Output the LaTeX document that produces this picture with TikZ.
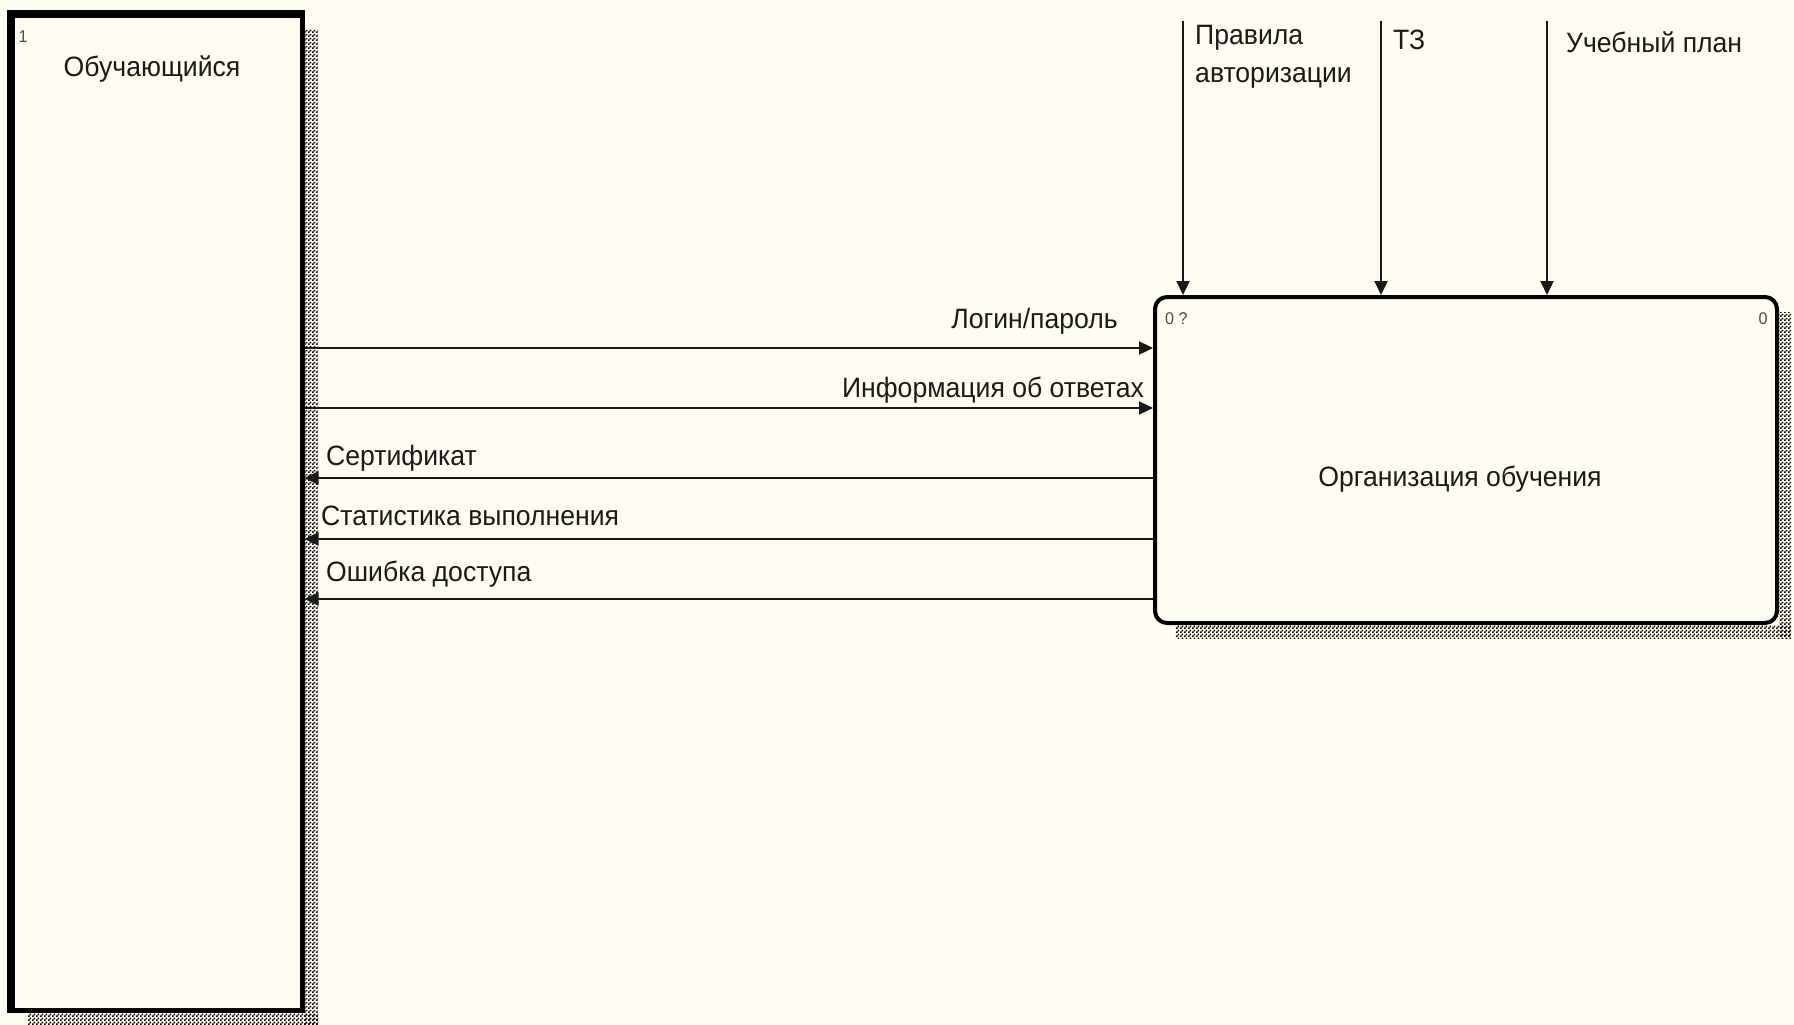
\documentclass[tikz,border=0pt]{standalone}
\usepackage{fontspec}
\setmainfont{Liberation Sans}[FakeStretch=0.95]
\usetikzlibrary{arrows.meta,patterns}
\definecolor{bg}{HTML}{FFFCF2}
\definecolor{ink}{HTML}{1A1A1A}
\definecolor{numgray}{HTML}{4A4A4A}
\pgfdeclarepatternformonly{idefshade}{\pgfqpoint{0pt}{0pt}}{\pgfqpoint{4pt}{4pt}}{\pgfqpoint{4pt}{4pt}}{%
  \pgfpathrectangle{\pgfqpoint{0pt}{0pt}}{\pgfqpoint{2pt}{2pt}}%
  \pgfpathrectangle{\pgfqpoint{2pt}{2pt}}{\pgfqpoint{2pt}{2pt}}%
  \pgfusepath{fill}}
\begin{document}
\begin{tikzpicture}[x=1pt,y=-1pt,
  shade/.style={pattern=idefshade, pattern color=black},
  lbl/.style={font=\fontsize{28}{33}\selectfont, text=ink, inner sep=0pt},
  num/.style={font=\fontsize{17}{19}\selectfont, text=numgray, inner sep=0pt},
  flow/.style={draw=ink, line width=2.3pt, -{Triangle[length=14pt,width=13pt]}},
  boxline/.style={draw=black, fill=bg, inner sep=0pt}]
\fill[bg] (0,0) rectangle (1794,1025);
\useasboundingbox (0,0) rectangle (1794,1025);
% shadows
\fill[shade] (304,30) rectangle (318,1025);
\fill[shade] (28,1013) rectangle (318,1025);
\fill[shade] (1779,312) rectangle (1791,638);
\fill[shade] (1175,625) rectangle (1791,638);
% boxes
\node[boxline, line width=5pt, minimum width=292.5pt, minimum height=998pt] (learner) at (155.75,511.5) {};
\fill[black] (7,10) rectangle (15,1013);
\fill[black] (7,10) rectangle (304,18);
\node[boxline, line width=4pt, rounded corners=12pt, minimum width=622pt, minimum height=326pt] (proc) at (1466,460) {};
% box texts
\node[num] (n1) at (23,37) {1};
\node[lbl] (tlearner) at (152,69) {Обучающийся};
\node[num, anchor=west] (n0q) at (1165,319) {0 ?};
\node[num] (n0) at (1763,319) {0};
\node[lbl] (tproc) at (1460,479) {Организация обучения};
% controls
\coordinate (c1) at (1183,21);
\coordinate (c2) at (1381,21);
\coordinate (c3) at (1547,21);
\draw[flow] (c1) -- (c1 |- proc.north);
\draw[flow] (c2) -- (c2 |- proc.north);
\draw[flow] (c3) -- (c3 |- proc.north);
\node[lbl, anchor=west] (lc1a) at (1195,38) {Правила};
\node[lbl, anchor=west] (lc1b) at (1195,78) {авторизации};
\node[lbl, anchor=west] (lc2) at (1393,40) {ТЗ};
\node[lbl, anchor=west] (lc3) at (1566,42) {Учебный план};
% inputs and outputs
\coordinate (y1) at (0,348);
\coordinate (y2) at (0,408);
\coordinate (y3) at (0,478);
\coordinate (y4) at (0,539);
\coordinate (y5) at (0,599);
\draw[flow] (learner.east |- y1) -- (proc.west |- y1);
\draw[flow] (learner.east |- y2) -- (proc.west |- y2);
\draw[flow] (proc.west |- y3) -- (learner.east |- y3);
\draw[flow] (proc.west |- y4) -- (learner.east |- y4);
\draw[flow] (proc.west |- y5) -- (learner.east |- y5);
\node[lbl, anchor=east] (l1) at (1118,321) {Логин/пароль};
\node[lbl, anchor=east] (l2) at (1144,390) {Информация об ответах};
\node[lbl, anchor=west] (l3) at (326,458) {Сертификат};
\node[lbl, anchor=west] (l4) at (321,516) {Статистика выполнения};
\node[lbl, anchor=west] (l5) at (326,574) {Ошибка доступа};
\end{tikzpicture}
\end{document}
